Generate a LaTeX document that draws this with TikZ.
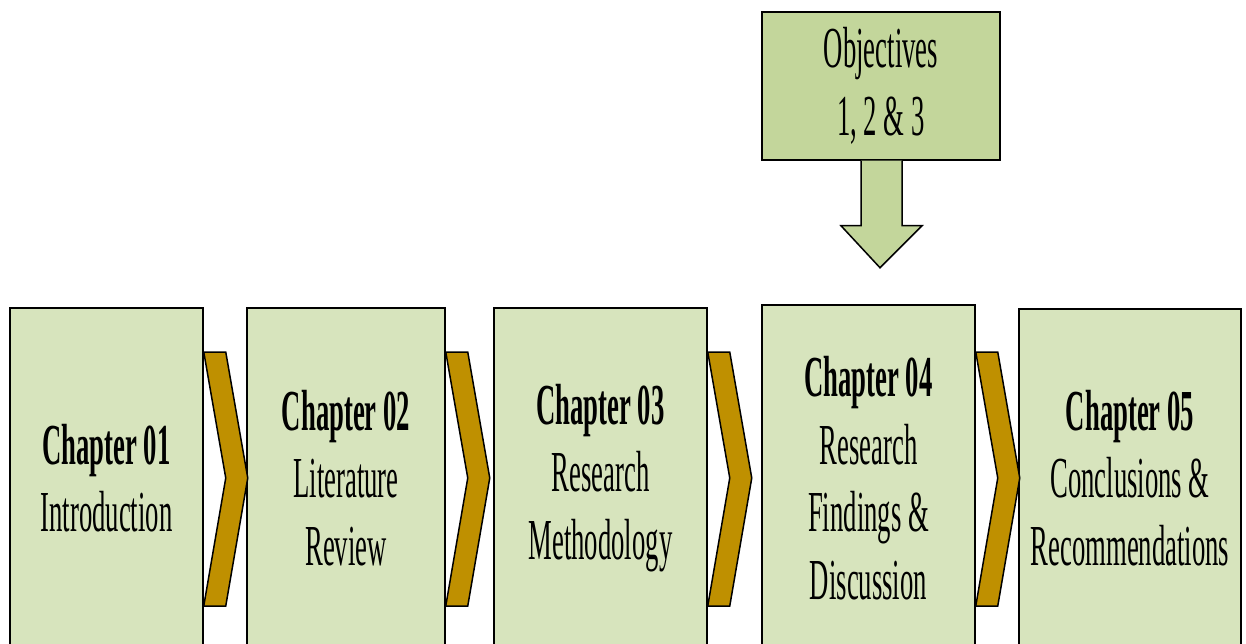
\documentclass[tikz,border=0pt]{standalone}
\usepackage{fontspec}
\setmainfont{Liberation Serif}[FakeStretch=0.46]
\usetikzlibrary{calc}
\definecolor{boxfill}{HTML}{D7E4BD}
\definecolor{objfill}{HTML}{C3D69B}
\definecolor{chevfill}{HTML}{BF9000}
\tikzset{
  chapbox/.style={draw=black, line width=1.5pt, fill=boxfill, rectangle, inner sep=0pt,
    align=center, font=\fontsize{58}{67.5}\selectfont},
  objbox/.style={draw=black, line width=1.5pt, fill=objfill, rectangle, inner sep=0pt,
    align=center, font=\fontsize{58}{67.5}\selectfont,
    minimum width=238pt, minimum height=148pt},
  chevron/.style={draw=black, line width=1.5pt, fill=chevfill, line join=miter},
  downarrow/.style={draw=black, line width=1.5pt, fill=objfill, line join=miter}
}
\begin{document}
\begin{tikzpicture}[x=1pt, y=-1pt]
\useasboundingbox (0,0) rectangle (1246,644);
\clip (0,0) rectangle (1246,644);
% chapter boxes
\node[chapbox, minimum width=193pt, minimum height=340pt] (b1) at (106.5,478) {\textbf{Chapter 01}\\Introduction};
\node[chapbox, minimum width=198pt, minimum height=340pt] (b2) at (346,478) {\textbf{Chapter 02}\\Literature\\Review};
\node[chapbox, minimum width=213pt, minimum height=340pt] (b3) at (600.5,478) {\textbf{Chapter 03}\\Research\\Methodology};
\node[chapbox, minimum width=213pt, minimum height=346pt] (b4) at (868.5,478) {\textbf{Chapter 04}\\Research\\Findings \&\\Discussion};
\node[chapbox, minimum width=222pt, minimum height=338pt] (b5) at (1130,478) {\textbf{Chapter 05}\\Conclusions \&\\Recommendations};
% objectives box
\node[objbox] (obj) at (881,86) {Objectives\\1, 2 \& 3};
% chevrons between boxes
\foreach \b in {b1,b2,b3,b4}{
  \draw[chevron] ($(\b.east)+(0,-126)$) -- ++(22,0) -- ($(\b.east)+(44,0)$)
     -- ($(\b.east)+(22,128)$) -- ($(\b.east)+(0,128)$) -- ($(\b.east)+(22,0)$) -- cycle;
}
% down arrow from objectives
\draw[downarrow] ($(obj.south)+(-20,0)$) -- ($(obj.south)+(-20,65)$) -- ($(obj.south)+(-40,65)$)
   -- ($(obj.south)+(-1,107)$) -- ($(obj.south)+(41,65)$) -- ($(obj.south)+(21,65)$)
   -- ($(obj.south)+(21,0)$);
\end{tikzpicture}
\end{document}
